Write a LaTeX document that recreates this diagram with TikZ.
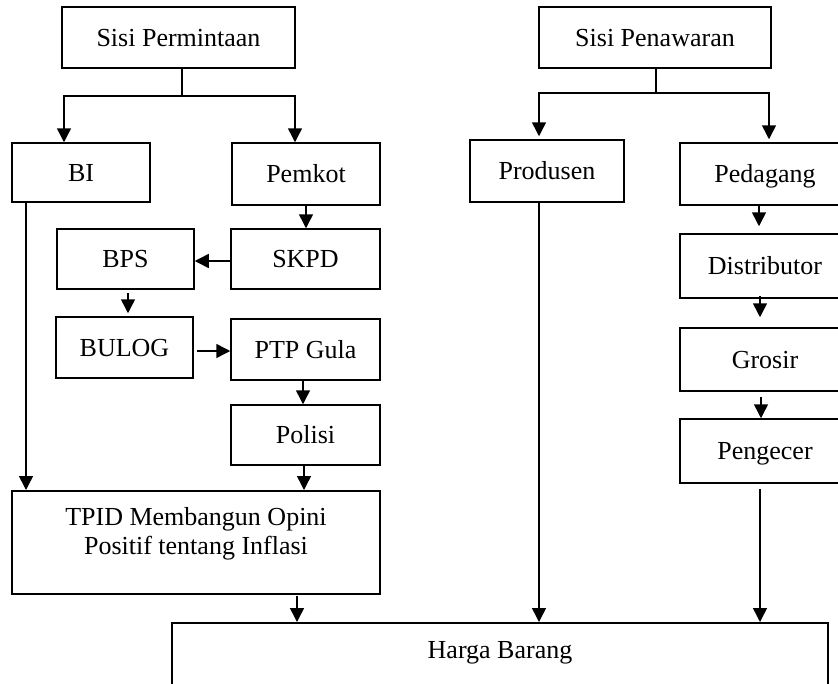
\documentclass[tikz,border=0pt]{standalone}
\usepackage{fontspec}
\setmainfont{Liberation Serif}
\usetikzlibrary{arrows.meta}
\tikzset{
  box/.style={draw, line width=1.5pt, inner sep=0pt, text height=17.5pt, text depth=0pt,
    font=\fontsize{26}{29}\selectfont, align=center},
  conn/.style={line width=1.5pt},
  arr/.style={line width=1.5pt, -{Triangle[width=14pt,length=14pt]}},
}
\begin{document}
\begin{tikzpicture}[x=1pt,y=-1pt]
\useasboundingbox (0,0) rectangle (838,683);
\clip (0,0) rectangle (838,683);
% left side
\node[box, minimum width=233pt, minimum height=61pt] (sp) at (178.5,37.5) {Sisi Permintaan};
\node[box, minimum width=138pt, minimum height=59pt] (bi) at (81,172.5) {BI};
\node[box, minimum width=148pt, minimum height=62pt] (pemkot) at (306,174) {Pemkot};
\node[box, minimum width=149pt, minimum height=60pt] (skpd) at (305.5,259) {SKPD};
\node[box, minimum width=137pt, minimum height=60pt] (bps) at (125.5,259) {BPS};
\node[box, minimum width=137pt, minimum height=61pt] (bulog) at (124.5,347.5) {BULOG};
\node[box, minimum width=149pt, minimum height=61pt] (ptp) at (305.5,349.5) {PTP Gula};
\node[box, minimum width=149pt, minimum height=60pt] (polisi) at (305.5,435) {Polisi};
\node[box, minimum width=368pt, text height=64pt, text depth=39pt, anchor=north] (tpid) at (196,490)
  {TPID Membangun Opini\\Positif tentang Inflasi};
% right side
\node[box, minimum width=232pt, minimum height=61pt] (spn) at (655,37.5) {Sisi Penawaran};
\node[box, minimum width=154pt, minimum height=62pt] (produsen) at (547,171) {Produsen};
\node[box, minimum width=170pt, minimum height=62pt] (pedagang) at (765,174) {Pedagang};
\node[box, minimum width=170pt, minimum height=64pt] (distributor) at (765,266) {Distributor};
\node[box, minimum width=170pt, minimum height=63pt] (grosir) at (765,359.5) {Grosir};
\node[box, minimum width=170pt, minimum height=64pt] (pengecer) at (765,451) {Pengecer};
% bottom
\node[box, minimum width=656pt, text height=36pt, text depth=42pt, anchor=north] (harga) at (500,622) {Harga Barang};

% connectors left
\coordinate (spj) at (182,96);
\draw[conn] ([xshift=3.5pt]sp.south) -- (spj);
\draw[arr] (spj) -| ([xshift=-17pt]bi.north);
\draw[arr] (spj) -| ([xshift=-11pt]pemkot.north);
\draw[arr] ([xshift=-55pt]bi.south) -- ([xshift=-55pt]bi.south |- tpid.north);
\draw[arr] (pemkot.south) -- (pemkot.south |- skpd.north);
\draw[arr] ([yshift=-2pt]skpd.west) -- ([yshift=-2pt]bps.east);
\draw[arr, shorten <=3pt, shorten >=3pt] ([xshift=2.5pt]bps.south) -- ([xshift=2.5pt]bps.south |- bulog.north);
\draw[arr, shorten <=3pt] ([yshift=-3.5pt]bulog.east) -- ([yshift=-3.5pt]bulog.east -| ptp.west);
\draw[arr] ([xshift=-2.5pt]ptp.south) -- ([xshift=-2.5pt]ptp.south |- polisi.north);
\draw[arr] ([xshift=-1.5pt]polisi.south) -- ([xshift=-1.5pt]polisi.south |- tpid.north);
\draw[arr, shorten <=1pt] ([xshift=101pt]tpid.south) -- ([xshift=101pt]tpid.south |- harga.north);

% connectors right
\coordinate (spnj) at (656,93);
\draw[conn] ([xshift=1pt]spn.south) -- (spnj);
\draw[arr, shorten >=3pt] (spnj) -| ([xshift=-8pt]produsen.north);
\draw[arr, shorten >=3pt] (spnj) -| ([xshift=4pt]pedagang.north);
\draw[arr] ([xshift=-8pt]produsen.south) -- ([xshift=-8pt]produsen.south |- harga.north);
\draw[arr, shorten >=7pt] ([xshift=-6pt]pedagang.south) -- ([xshift=-6pt]pedagang.south |- distributor.north);
\draw[arr, shorten <=-3pt, shorten >=10pt] ([xshift=-5pt]distributor.south) -- ([xshift=-5pt]distributor.south |- grosir.north);
\draw[arr, shorten <=5pt] ([xshift=-4pt]grosir.south) -- ([xshift=-4pt]grosir.south |- pengecer.north);
\draw[arr, shorten <=5pt] ([xshift=-5pt]pengecer.south) -- ([xshift=-5pt]pengecer.south |- harga.north);
\end{tikzpicture}
\end{document}
